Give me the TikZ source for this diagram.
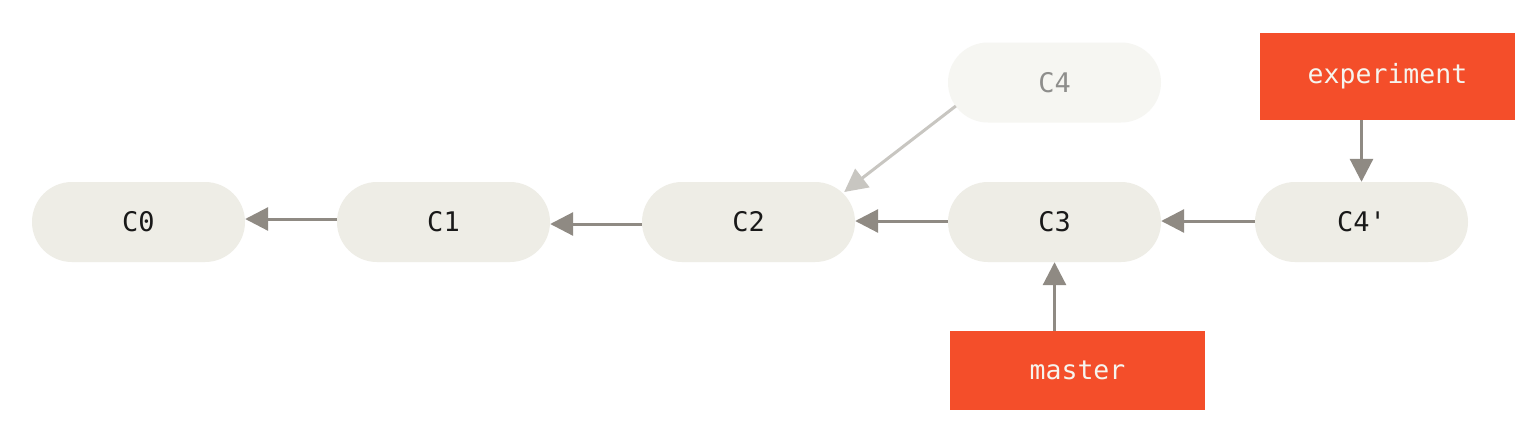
\documentclass[tikz,border=0pt]{standalone}
\usepackage{fontspec}
\setmonofont{DejaVu Sans Mono}
\usepackage{xcolor}
\usepackage{tikz}
\usetikzlibrary{positioning,calc,arrows.meta}

\definecolor{commitfill}{HTML}{EEEDE6}
\definecolor{ghostfill}{HTML}{F6F6F2}
\definecolor{ghosttext}{HTML}{8E8E8C}
\definecolor{ghostline}{HTML}{C8C6C1}
\definecolor{linkgray}{HTML}{8F8A83}
\definecolor{branchred}{HTML}{F44E2A}
\definecolor{branchtext}{HTML}{F6F4EE}

\begin{document}
\begin{tikzpicture}[x=1pt,y=-1pt,
		commit/.style={fill=commitfill,rounded corners=40pt,minimum width=213pt,minimum height=80pt,inner sep=0pt,text=black!90,font=\ttfamily\fontsize{27}{31}\selectfont},
		ghost/.style={commit,fill=ghostfill,text=ghosttext},
		branch/.style={fill=branchred,minimum width=255pt,inner sep=0pt,text=branchtext,font=\ttfamily\fontsize{26.5}{31}\selectfont},
		link/.style={draw=linkgray,line width=3pt,-{Triangle[length=23pt,width=23pt]}},
		ghostlink/.style={link,draw=ghostline}]
	% Rahmen
	\fill[white] (0,0) rectangle (1532,426);
	\useasboundingbox (0,0) rectangle (1532,426);
	
	% Commits
	\node[commit] (c0) at (138.5,222) {C0};
	\node[commit] (c1) at (443.5,222) {C1};
	\node[commit] (c2) at (748.5,222) {C2};
	\node[commit] (c3) at (1054.5,222) {C3};
	\node[commit] (c4p) at (1361.5,222) {C4'};
	\node[ghost] (c4) at (1054.5,82.5) {C4};
	
	% Branches
	\node[branch,minimum height=87pt] (exp) at (1387.5,76.5) {experiment};
	\node[branch,minimum height=79pt] (master) at (1077.5,370.5) {master};
	
	% Eltern
	\draw[link] ([yshift=3]c1.west) -- ([yshift=3]c0.east);
	\draw[link] ([yshift=-2]c2.west) -- ([yshift=-2]c1.east);
	\draw[link] ([yshift=1]c3.west) -- ([yshift=1]c2.east);
	\draw[link] ([yshift=1]c4p.west) -- ([yshift=1]c3.east);
	\draw[ghostlink] ([shift={(8,23.5)}]c4.west) -- ([shift={(-11,-30)}]c2.east);
	
	% Zeiger
	\draw[link] (exp.south -| c4p) -- (c4p.north);
	\draw[link] (master.north -| c3) -- (c3.south);
\end{tikzpicture}
\end{document}
